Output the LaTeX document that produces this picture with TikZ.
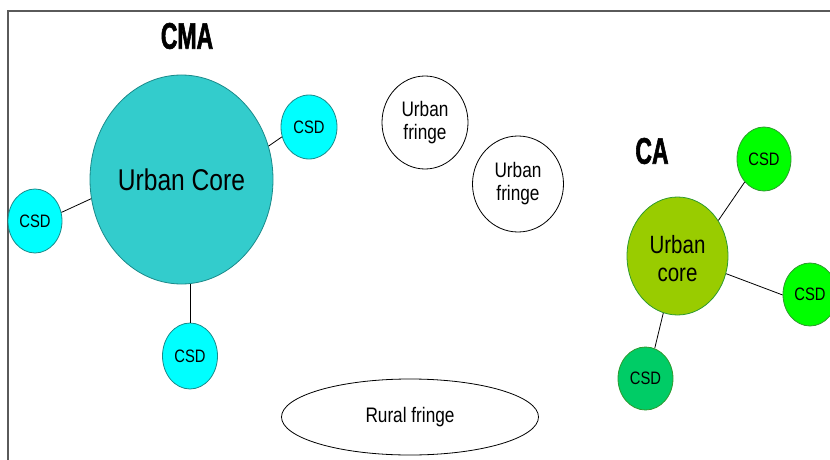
\documentclass[tikz,border=0pt]{standalone}
\usepackage{fontspec}
\setmainfont{Liberation Sans}
\newfontfamily\nar[FakeStretch=0.82]{Liberation Sans}
\newfontfamily\heavy[FakeStretch=0.62,FakeBold=1.5]{Liberation Sans}
\usetikzlibrary{shapes.geometric}
\definecolor{coreteal}{HTML}{33CCCC}
\definecolor{tealline}{HTML}{1A8A8A}
\definecolor{csdcyan}{HTML}{00FFFF}
\definecolor{coregreen}{HTML}{99CC00}
\definecolor{greenline}{HTML}{2E9A2E}
\definecolor{csdgreen}{HTML}{00FF00}
\definecolor{csdsea}{HTML}{00CC66}
\definecolor{framegray}{HTML}{5A5A5A}
\begin{document}
\begin{tikzpicture}[x=1pt,y=-1pt,
  blob/.style={ellipse,inner sep=0pt,line width=0.8pt,align=center,font=\nar},
  tealblob/.style={blob,draw=tealline,fill=#1},
  greenblob/.style={blob,draw=greenline,fill=#1},
  whiteblob/.style={blob,draw=black,fill=white},
  csdtext/.style={font=\nar\fontsize{18}{18}\selectfont},
  fringetext/.style={font=\nar\fontsize{21}{23}\selectfont},
  title/.style={font=\heavy\bfseries\fontsize{37}{37}\selectfont},
  link/.style={draw=black,line width=0.8pt}]
\useasboundingbox (0,0) rectangle (830,460);
\draw[framegray,line width=1.6pt] (8,460) -- (8,11) -- (830,11);

% titles
\node[title] (cma) at (187,36) {CMA};
\node[title] (ca) at (652,151) {CA};

% CMA group
\node[tealblob=coreteal,minimum width=183pt,minimum height=209pt,
      font=\nar\fontsize{30}{30}\selectfont] (uc) at (181.5,179.5) {Urban Core};
\node[tealblob=csdcyan,minimum width=56pt,minimum height=64pt,csdtext] (csdr) at (309,127) {CSD};
\node[tealblob=csdcyan,minimum width=54pt,minimum height=64pt,csdtext] (csdl) at (35,221) {CSD};
\node[tealblob=csdcyan,minimum width=55pt,minimum height=66pt,csdtext] (csdb) at (190,356) {CSD};
\draw[link] (uc.21) -- (csdr.200);
\draw[link] (uc.192.6) -- (csdl.18);
\draw[link] (csdb.north) -- (csdb.north |- uc.south);

% fringes
\node[whiteblob,minimum width=86pt,minimum height=93pt,fringetext] (uf1) at (425,122.5) {Urban\\fringe};
\node[whiteblob,minimum width=91pt,minimum height=96pt,fringetext] (uf2) at (518,184) {Urban\\fringe};
\node[whiteblob,minimum width=257pt,minimum height=76pt,fringetext] (rf) at (410,417) {Rural fringe};

% CA group
\node[greenblob=coregreen,minimum width=101pt,minimum height=118pt,
      font=\nar\fontsize{25}{28}\selectfont] (cc) at (677.5,256)
      {\raisebox{-12pt}[0pt][0pt]{\begin{tabular}{@{}c@{}}Urban\\core\end{tabular}}};
\node[greenblob=csdgreen,minimum width=54pt,minimum height=64pt,csdtext] (gt) at (764,159) {CSD};
\node[greenblob=csdgreen,minimum width=54pt,minimum height=63pt,csdtext] (gr) at (810,294.5) {CSD};
\node[greenblob=csdsea,minimum width=55pt,minimum height=63pt,csdtext] (gb) at (645.5,378.5) {CSD};
\draw[link] (cc.41) -- (gt.230);
\draw[link] (cc.340) -- (gr.181);
\draw[link] (cc.256) -- (gb.73);
\end{tikzpicture}
\end{document}
